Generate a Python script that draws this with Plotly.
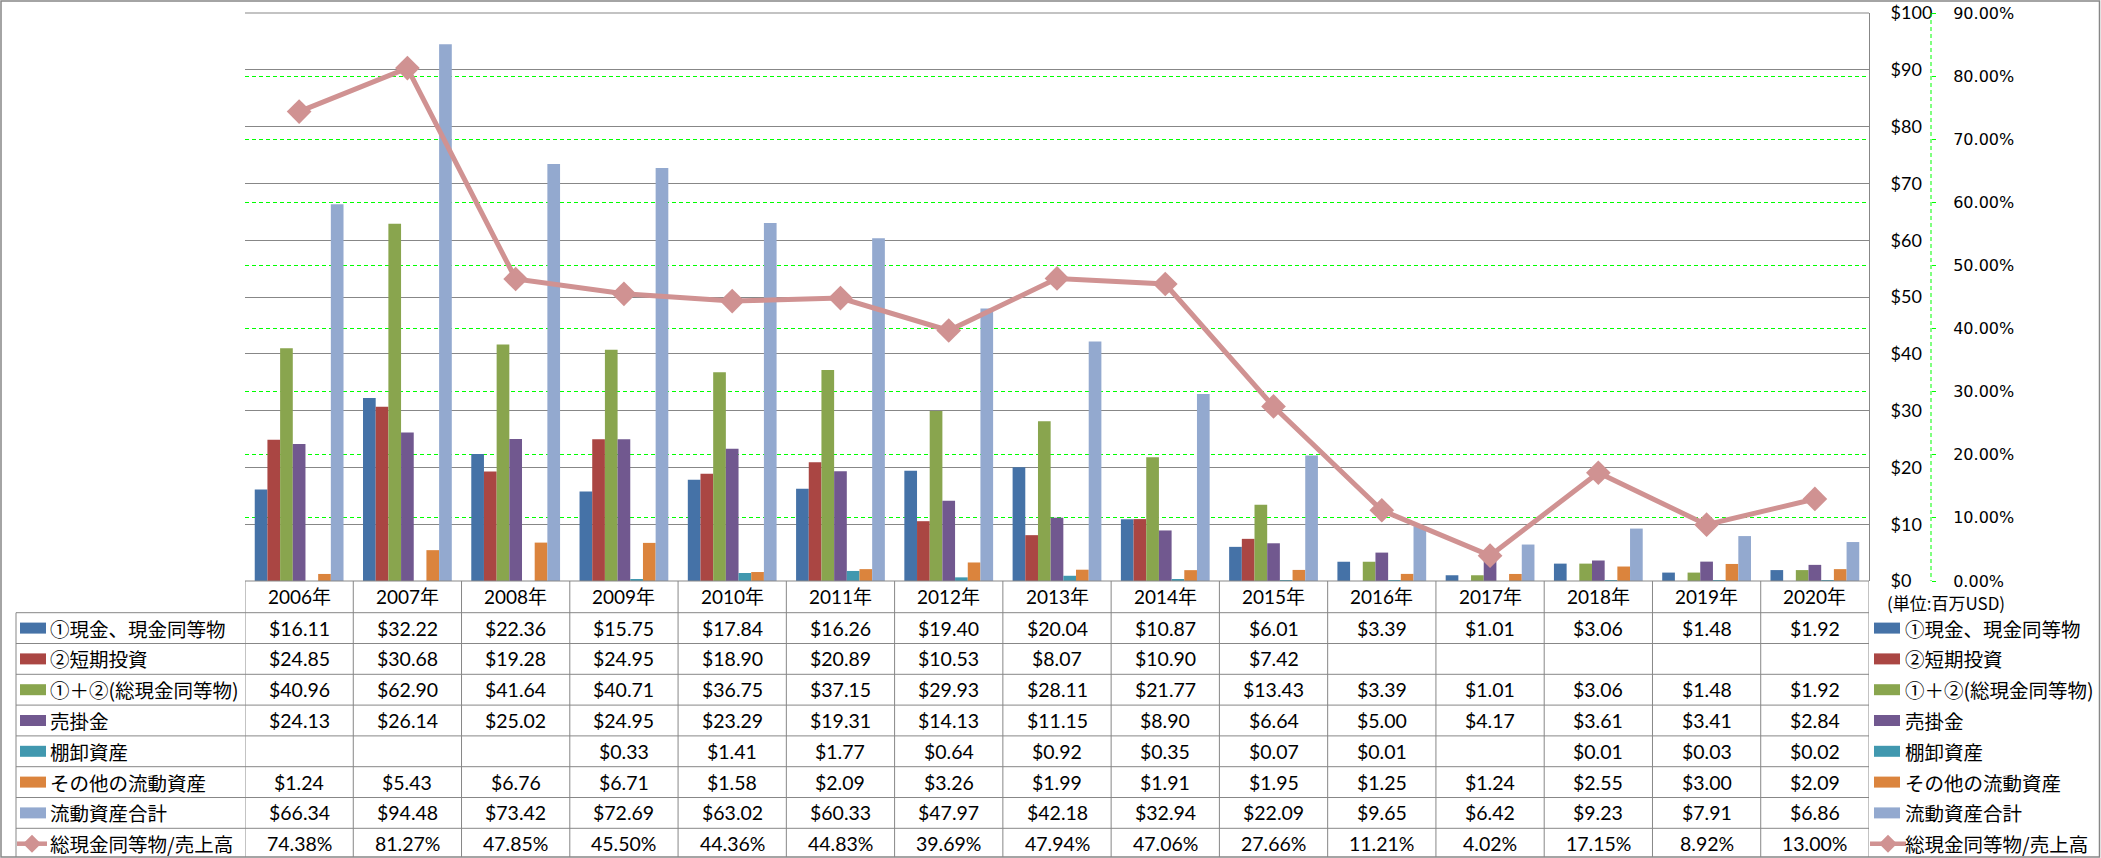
import plotly.graph_objects as go

# ---- data (百万USD) ----
years = ["2006年", "2007年", "2008年", "2009年", "2010年", "2011年", "2012年", "2013年",
         "2014年", "2015年", "2016年", "2017年", "2018年", "2019年", "2020年"]
cash = [16.11, 32.22, 22.36, 15.75, 17.84, 16.26, 19.40, 20.04, 10.87, 6.01, 3.39, 1.01, 3.06, 1.48, 1.92]
short_inv = [24.85, 30.68, 19.28, 24.95, 18.90, 20.89, 10.53, 8.07, 10.90, 7.42, None, None, None, None, None]
total_cash = [40.96, 62.90, 41.64, 40.71, 36.75, 37.15, 29.93, 28.11, 21.77, 13.43, 3.39, 1.01, 3.06, 1.48, 1.92]
receivables = [24.13, 26.14, 25.02, 24.95, 23.29, 19.31, 14.13, 11.15, 8.90, 6.64, 5.00, 4.17, 3.61, 3.41, 2.84]
inventory = [None, None, None, 0.33, 1.41, 1.77, 0.64, 0.92, 0.35, 0.07, 0.01, None, 0.01, 0.03, 0.02]
other_assets = [1.24, 5.43, 6.76, 6.71, 1.58, 2.09, 3.26, 1.99, 1.91, 1.95, 1.25, 1.24, 2.55, 3.00, 2.09]
current_total = [66.34, 94.48, 73.42, 72.69, 63.02, 60.33, 47.97, 42.18, 32.94, 22.09, 9.65, 6.42, 9.23, 7.91, 6.86]
cash_ratio = [74.38, 81.27, 47.85, 45.50, 44.36, 44.83, 39.69, 47.94, 47.06, 27.66, 11.21, 4.02, 17.15, 8.92, 13.00]

bar_names = ["①現金、現金同等物", "②短期投資", "①＋②(総現金同等物)", "売掛金",
             "棚卸資産", "その他の流動資産", "流動資産合計"]
bar_values = [cash, short_inv, total_cash, receivables, inventory, other_assets, current_total]
bar_colors = ["#4572A7", "#AA4643", "#89A54E", "#71588F", "#4198AF", "#DB843D", "#93A9CF"]
line_name = "総現金同等物/売上高"
line_color = "#D09292"

# ---- geometry (pixels) ----
W, H = 2101, 858
PLOT_L, PLOT_R, PLOT_T, PLOT_B = 245, 1869, 13, 581
PAPER_W = W - PLOT_L
PAPER_H = PLOT_B - PLOT_T
ROW_TOP = 612.7
ROW_H = 30.8
BOTTOM = 857
GRID = "#878787"

NUM_FONT = "Lato, 'Noto Sans CJK JP', sans-serif"
JP_FONT = "'Noto Sans CJK JP', sans-serif"


def px(x):
    return (x - PLOT_L) / PAPER_W


def py(y):
    return (PLOT_B - y) / PAPER_H


idx = list(range(len(years)))
fig = go.Figure()

for name, vals, col in zip(bar_names, bar_values, bar_colors):
    fig.add_trace(go.Bar(x=idx, y=vals, name=name, marker_color=col,
                         marker_line_width=0))

fig.add_trace(go.Scatter(
    x=idx, y=[r / 100 for r in cash_ratio], name=line_name, yaxis="y2",
    mode="lines+markers",
    line=dict(color=line_color, width=5),
    marker=dict(symbol="diamond", size=19, color=line_color),
))

shapes = []
annotations = []


def hline(x0, x1, y, color=GRID, width=1, layer="above"):
    shapes.append(dict(type="line", xref="paper", yref="paper",
                       x0=px(x0), x1=px(x1), y0=py(y), y1=py(y),
                       line=dict(color=color, width=width), layer=layer))


def vline(x, y0, y1, color=GRID, width=1, dash="solid"):
    shapes.append(dict(type="line", xref="paper", yref="paper",
                       x0=px(x), x1=px(x), y0=py(y0), y1=py(y1),
                       line=dict(color=color, width=width, dash=dash), layer="above"))


def text(x, y, s, font, size, anchor="left", xref="paper"):
    annotations.append(dict(x=x if xref != "paper" else px(x), y=py(y), xref=xref, yref="paper",
                            text=s, showarrow=False, xanchor=anchor, yanchor="middle",
                            font=dict(family=font, size=size, color="#000000")))


def swatch(x0, yc, color):
    shapes.append(dict(type="rect", xref="paper", yref="paper",
                       x0=px(x0), x1=px(x0 + 26), y0=py(yc - 5.5), y1=py(yc + 5.5),
                       fillcolor=color, line_width=0, layer="above"))


def line_symbol(x0, x1, yc):
    shapes.append(dict(type="line", xref="paper", yref="paper",
                       x0=px(x0), x1=px(x1), y0=py(yc), y1=py(yc),
                       line=dict(color=line_color, width=4.5), layer="above"))
    cx, r = (x0 + x1) / 2, 9
    path = "M {} {} L {} {} L {} {} L {} {} Z".format(
        px(cx - r), py(yc), px(cx), py(yc - r), px(cx + r), py(yc), px(cx), py(yc + r))
    shapes.append(dict(type="path", xref="paper", yref="paper", path=path,
                       fillcolor=line_color, line_width=0, layer="above"))


# outer chart border
shapes.append(dict(type="rect", xref="paper", yref="paper",
                   x0=px(1), x1=px(2099.5), y0=py(1), y1=py(BOTTOM),
                   line=dict(color=GRID, width=1.5), layer="above"))

# top edge of plot area ($100 gridline)
hline(PLOT_L, PLOT_R, PLOT_T, layer="below")

# data table grid
hline(PLOT_L, PLOT_R, PLOT_B)
for k in range(8):
    hline(16, PLOT_R, ROW_TOP + k * ROW_H)
vline(16, ROW_TOP, BOTTOM)
for i in range(len(years) + 1):
    shapes.append(dict(type="line", xref="x", yref="paper",
                       x0=i - 0.5, x1=i - 0.5, y0=py(PLOT_B), y1=py(BOTTOM),
                       line=dict(color=GRID, width=1), layer="above"))

# secondary axis dashed line
vline(1931, PLOT_T, PLOT_B, color="#00FF00", width=1, dash="4px,3px")

# header years
for i, yr in enumerate(years):
    text(i, (PLOT_B + ROW_TOP) / 2, yr, NUM_FONT, 19, anchor="center", xref="x")

# rows
row_names = bar_names + [line_name]
row_values = bar_values + [cash_ratio]
for k, (name, vals) in enumerate(zip(row_names, row_values)):
    yc = ROW_TOP + (k + 0.5) * ROW_H
    if k < len(bar_colors):
        swatch(20, yc, bar_colors[k])
        swatch(1874, yc, bar_colors[k])
    else:
        line_symbol(17, 47, yc)
        line_symbol(1870, 1906, yc)
    text(48, yc, name, JP_FONT, 19.5)
    text(1903, yc, name, JP_FONT, 19.5)
    for i, v in enumerate(vals):
        if v is None:
            continue
        s = f"{v:.2f}%" if k == len(bar_colors) else f"${v:.2f}"
        text(i, yc, s, NUM_FONT, 19.5, anchor="center", xref="x")

text(1885, 602, "(単位:百万USD)", JP_FONT, 17)

fig.update_layout(
    width=W, height=H,
    template="none",
    margin=dict(l=PLOT_L, r=0, t=PLOT_T, b=H - PLOT_B, pad=0),
    paper_bgcolor="white", plot_bgcolor="white",
    showlegend=False,
    barmode="group", bargap=0.18, bargroupgap=0,
    xaxis=dict(domain=[0, (PLOT_R - PLOT_L) / PAPER_W], range=[-0.5, len(years) - 0.5],
               showticklabels=False, showgrid=False, zeroline=False, showline=False,
               ticks="", automargin=False),
    yaxis=dict(range=[0, 100], dtick=10, tickprefix="$", side="right",
               showgrid=True, gridcolor=GRID, gridwidth=1, zeroline=False,
               showline=True, linecolor=GRID, linewidth=1, ticks="",
               ticklabelstandoff=17, automargin=False,
               tickfont=dict(family=NUM_FONT, size=18, color="#000000")),
    yaxis2=dict(range=[0, 0.9], dtick=0.1, tickformat=".2%", overlaying="y",
                side="right", anchor="free", position=px(1931),
                showgrid=True, gridcolor="#00FF00", gridwidth=1, griddash="4px,3px",
                zeroline=False, showline=False, ticks="outside", ticklen=4,
                tickcolor="#00FF00", ticklabelstandoff=14, automargin=False,
                tickfont=dict(family="'DejaVu Sans', sans-serif", size=16, color="#000000")),
    shapes=shapes,
    annotations=annotations,
)

fig.write_html("out.html", config={"displayModeBar": False},
               post_script="document.body.style.margin='0';")
